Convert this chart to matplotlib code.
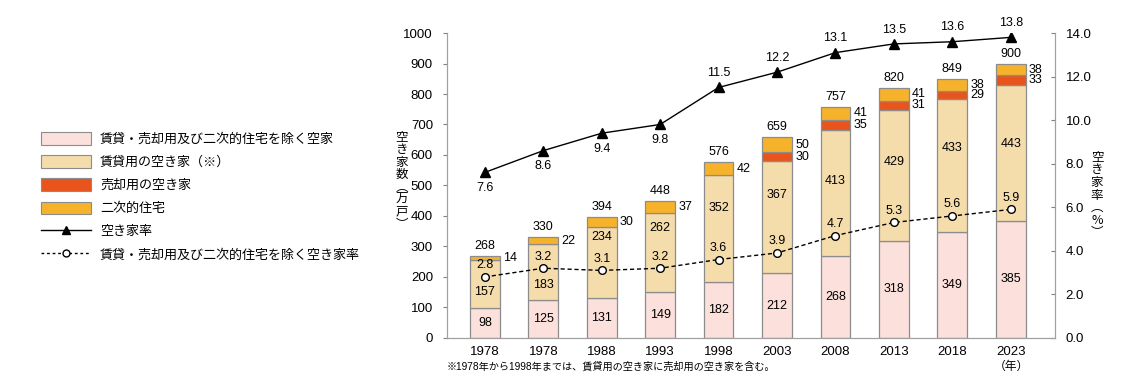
import matplotlib
matplotlib.use("Agg")
import matplotlib.pyplot as plt
from matplotlib.patches import Patch
from matplotlib.lines import Line2D
import numpy as np

plt.rcParams['font.family'] = ['Liberation Sans', 'Noto Sans CJK JP', 'DejaVu Sans']

# データ
years = ['1978', '1978', '1988', '1993', '1998', '2003', '2008', '2013', '2018', '2023']
base = [98, 125, 131, 149, 182, 212, 268, 318, 349, 385]        # 賃貸・売却用及び二次的住宅を除く空家
rental = [157, 183, 234, 262, 352, 367, 413, 429, 433, 443]     # 賃貸用の空き家
sale = [0, 0, 0, 0, 0, 30, 35, 31, 29, 33]                       # 売却用の空き家
second = [14, 22, 30, 37, 42, 50, 41, 41, 38, 38]                # 二次的住宅
totals = [268, 330, 394, 448, 576, 659, 757, 820, 849, 900]
rate = [7.6, 8.6, 9.4, 9.8, 11.5, 12.2, 13.1, 13.5, 13.6, 13.8]
rate2 = [2.8, 3.2, 3.1, 3.2, 3.6, 3.9, 4.7, 5.3, 5.6, 5.9]

# ラベル配置（スタイル用）
rental_lbl_frac = [0.34, 0.27, 0.85, 0.81, 0.69, 0.70, 0.60, 0.60, 0.63, 0.57]
rate_below = [True, True, True, True, False, False, False, False, False, False]

c_base = '#fce0dc'
c_rent = '#f5dcab'
c_sale = '#e8541c'
c_sec = '#f6b22b'
edge = '#8c8c8c'
fs = 9

fig = plt.figure(figsize=(11.4, 3.84), dpi=100)
ax = fig.add_axes([0.392, 0.12, 0.533, 0.794])
ax2 = ax.twinx()

x = np.arange(len(years))
w = 0.51
b = np.array(base)
r = np.array(rental)
s = np.array(sale)
sc = np.array(second)

ax.bar(x, b, w, color=c_base, edgecolor=edge, linewidth=0.9, zorder=2)
ax.bar(x, r, w, bottom=b, color=c_rent, edgecolor=edge, linewidth=0.9, zorder=2)
has_sale = s > 0
ax.bar(x[has_sale], s[has_sale], w, bottom=(b + r)[has_sale], color=c_sale,
       edgecolor=edge, linewidth=0.9, zorder=2)
ax.bar(x, sc, w, bottom=b + r + s, color=c_sec, edgecolor=edge, linewidth=0.9, zorder=2)

for i in range(len(years)):
    ax.text(x[i], b[i] / 2, str(base[i]), ha='center', va='center', fontsize=fs, zorder=5)
    ax.text(x[i], b[i] + r[i] * rental_lbl_frac[i], str(rental[i]), ha='center', va='center',
            fontsize=fs, zorder=5)
    if sale[i] > 0:
        ax.text(x[i] + 0.31, b[i] + r[i] + s[i] / 2, str(sale[i]), ha='left', va='center',
                fontsize=fs)
    ax.text(x[i] + 0.31, b[i] + r[i] + s[i] + sc[i] / 2, str(second[i]), ha='left',
            va='center', fontsize=fs)
    ax.annotate(str(totals[i]), (x[i], b[i] + r[i] + s[i] + sc[i]), xytext=(0, 3),
                textcoords='offset points', ha='center', va='bottom', fontsize=fs)

ax2.plot(x, rate, color='black', linewidth=1, marker='^', markersize=6.5, zorder=6)
ax2.plot(x, rate2, color='black', linewidth=1, linestyle=(0, (3, 2)), marker='o',
         markersize=5.5, markerfacecolor='white', markeredgewidth=1, zorder=6)
for i in range(len(years)):
    if rate_below[i]:
        ax2.annotate(f'{rate[i]:.1f}', (x[i], rate[i]), xytext=(0, -7), textcoords='offset points',
                     ha='center', va='top', fontsize=fs)
    else:
        ax2.annotate(f'{rate[i]:.1f}', (x[i], rate[i]), xytext=(0, 6), textcoords='offset points',
                     ha='center', va='bottom', fontsize=fs)
    ax2.annotate(f'{rate2[i]:.1f}', (x[i], rate2[i]), xytext=(0, 4), textcoords='offset points',
                 ha='center', va='bottom', fontsize=fs, zorder=7)

ax.set_xlim(-0.65, 9.75)
ax.set_ylim(0, 1000)
ax.set_yticks(range(0, 1001, 100))
ax2.set_ylim(0, 14)
ax2.set_yticks(np.arange(0, 14.1, 2))
ax2.set_yticklabels([f'{v:.1f}' for v in np.arange(0, 14.1, 2)])
ax.set_xticks(x)
ax.set_xticklabels(years)

for a in (ax, ax2):
    a.spines['top'].set_visible(False)
    for sp in ('left', 'right', 'bottom'):
        a.spines[sp].set_color('#a0a0a0')
ax.tick_params(axis='x', length=0, labelsize=9.5, pad=6)
ax.tick_params(axis='y', length=3, color='#808080', labelsize=9.5, pad=7)
ax2.tick_params(axis='y', direction='in', length=3, color='#808080', labelsize=9.5, pad=8)

# 縦書きの軸ラベル
fig.text(402 / 1140, 1 - 181 / 384, '空\nき\n家\n数\n︵\n万\n戸\n︶', ha='center', va='center',
         fontsize=fs, linespacing=0.95, family=['Noto Sans CJK JP'])
fig.text(1097 / 1140, 1 - 195 / 384, '空\nき\n家\n率\n︵\n%\n︶', ha='center', va='center',
         fontsize=fs, linespacing=0.95, family=['Noto Sans CJK JP'])

fig.text(1011 / 1140, 1 - 367 / 384, '（年）', ha='center', va='center', fontsize=8.5)
fig.text(447 / 1140, 1 - 367 / 384, '※1978年から1998年までは、賃貸用の空き家に売却用の空き家を含む。',
         ha='left', va='center', fontsize=7.3)

handles = [
    Patch(facecolor=c_base, edgecolor=edge, linewidth=0.8),
    Patch(facecolor=c_rent, edgecolor=edge, linewidth=0.8),
    Patch(facecolor=c_sale, edgecolor=edge, linewidth=0.8),
    Patch(facecolor=c_sec, edgecolor=edge, linewidth=0.8),
    Line2D([], [], color='black', linewidth=1, marker='^', markersize=6),
    Line2D([], [], color='black', linewidth=1, linestyle=(0, (2, 2)), marker='o', markersize=5,
           markerfacecolor='white'),
]
labels = ['賃貸・売却用及び二次的住宅を除く空家', '賃貸用の空き家（※）', '売却用の空き家', '二次的住宅',
          '空き家率', '賃貸・売却用及び二次的住宅を除く空き家率']
fig.legend(handles, labels, loc='upper left', bbox_to_anchor=(36 / 1140, 1 - 127 / 384),
           frameon=False, fontsize=9.4, handlelength=3.85, handleheight=1.1, labelspacing=0.72,
           handletextpad=0.65, borderaxespad=0)

fig.savefig('out.png', dpi=100)
